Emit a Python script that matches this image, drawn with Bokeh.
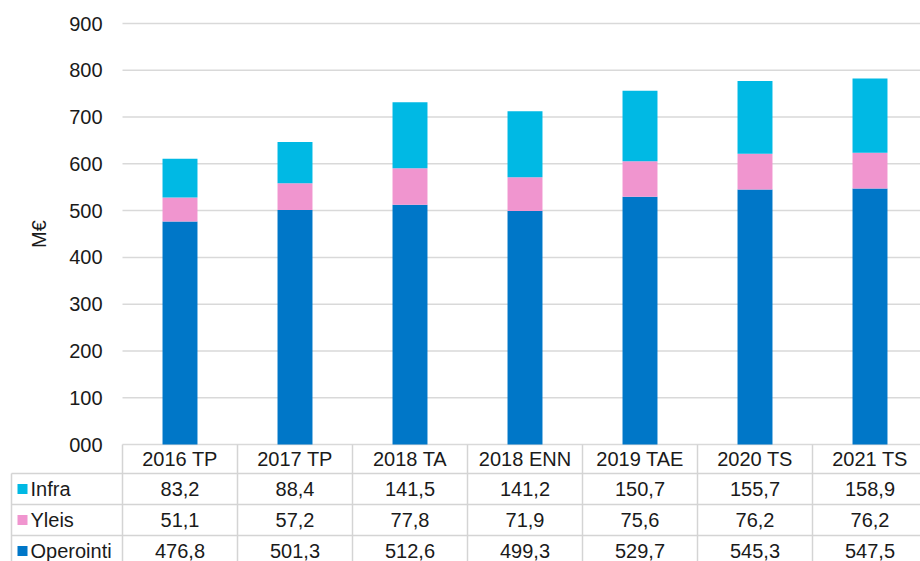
import math
from bokeh.plotting import figure
from bokeh.models import ColumnDataSource, Range1d
from bokeh.core.properties import value
from bokeh.embed import file_html
from bokeh.resources import INLINE

# ---- data ----
categories = ["2016 TP", "2017 TP", "2018 TA", "2018 ENN", "2019 TAE", "2020 TS", "2021 TS"]
operointi = [476.8, 501.3, 512.6, 499.3, 529.7, 545.3, 547.5]
yleis = [51.1, 57.2, 77.8, 71.9, 75.6, 76.2, 76.2]
infra = [83.2, 88.4, 141.5, 141.2, 150.7, 155.7, 158.9]
stack_order = ["Operointi", "Yleis", "Infra"]          # bottom -> top
table_order = ["Infra", "Yleis", "Operointi"]          # table rows top -> bottom
y_ticks = [0, 100, 200, 300, 400, 500, 600, 700, 800, 900]
y_tick_labels = ["000", "100", "200", "300", "400", "500", "600", "700", "800", "900"]
y_title = "M€"

# ---- styles ----
colors = {"Operointi": "#0077C8", "Yleis": "#F095CF", "Infra": "#00B9E4"}
FONT = "Liberation Sans"
FS = "20px"
TXT = "#1a1a1a"
BORDER = "#d4d4d4"
GRID = "#d9d9d9"

# ---- layout geometry (pixels of the 920x561 canvas) ----
W, H = 920, 561
plot_left_px = 122      # x of first category column
col_px = 115.0          # width of one category column
y0_px, y900_px = 444, 23
row_top_px, row_px = 473, 31
legend_left_px = 11

k = (y0_px - y900_px) / 900.0                      # px per value unit
x_lo = -plot_left_px / col_px
x_hi = (W - plot_left_px) / col_px
y_hi = 900 + y900_px / k
y_lo = -(H - y0_px) / k
header_bottom = -(row_top_px - y0_px) / k
t_top = -row_top_px / row_px
t_bot = (H - row_top_px) / row_px

n = len(categories)
nrows = len(table_order)
series = {"Operointi": operointi, "Yleis": yleis, "Infra": infra}
xs = [i + 0.5 for i in range(n)]
legend_left = (legend_left_px - plot_left_px) / col_px

p = figure(width=W, height=H, x_range=Range1d(x_lo, x_hi), y_range=Range1d(y_lo, y_hi),
           x_axis_location=None, y_axis_location=None,
           output_backend="svg", toolbar_location=None,
           min_border_left=0, min_border_right=0, min_border_top=0, min_border_bottom=0)
p.extra_y_ranges = {"tbl": Range1d(t_bot, t_top)}
p.outline_line_color = None
p.grid.visible = False
p.background_fill_color = "white"
p.border_fill_color = "white"

# grid lines
p.segment(x0=[0] * len(y_ticks), y0=y_ticks, x1=[x_hi + 1] * len(y_ticks), y1=y_ticks,
          line_color=GRID, line_width=1.5)

# y tick labels and title
p.text(x=[-20 / col_px] * len(y_ticks), y=y_ticks, text=y_tick_labels, text_align="right",
       text_baseline="middle", text_font=value(FONT), text_font_size=FS, text_color=TXT)
p.text(x=[(38 - plot_left_px) / col_px], y=[(y_ticks[0] + y_ticks[-1]) / 2], text=[y_title],
       angle=math.pi / 2, text_align="center", text_baseline="middle",
       text_font=value(FONT), text_font_size=FS, text_color=TXT)

# stacked bars
src = ColumnDataSource(dict(x=xs, **series))
p.vbar_stack(stack_order, x="x", width=0.304, source=src,
             color=[colors[s] for s in stack_order], line_color=None)

# header row cells
vx = list(range(n + 1))
p.segment(x0=vx, y0=[header_bottom] * len(vx), x1=vx, y1=[0] * len(vx),
          line_color=BORDER, line_width=1.5)
p.text(x=xs, y=[header_bottom / 2] * n, text=categories, text_align="center",
       text_baseline="middle", text_font=value(FONT), text_font_size=FS, text_color=TXT)

# table body
p.segment(x0=[legend_left] * (nrows + 1), y0=list(range(nrows + 1)), x1=[n] * (nrows + 1),
          y1=list(range(nrows + 1)), line_color=BORDER, line_width=1.5, y_range_name="tbl")
bx = [legend_left] + vx
p.segment(x0=bx, y0=[0] * len(bx), x1=bx, y1=[nrows] * len(bx),
          line_color=BORDER, line_width=1.5, y_range_name="tbl")

rows_y = [r + 0.5 for r in range(nrows)]
p.scatter(x=[(22 - plot_left_px) / col_px] * nrows, y=rows_y, marker="square", size=10,
          color=[colors[s] for s in table_order], line_color=None, y_range_name="tbl")
p.text(x=[(30 - plot_left_px) / col_px] * nrows, y=rows_y, text=table_order, text_align="left",
       text_baseline="middle", text_font=value(FONT), text_font_size=FS, text_color=TXT,
       y_range_name="tbl")

cx, cy, ct = [], [], []
for r, name in enumerate(table_order):
    for i, v in enumerate(series[name]):
        cx.append(i + 0.5)
        cy.append(r + 0.5)
        ct.append(f"{v:.1f}".replace(".", ","))
p.text(x=cx, y=cy, text=ct, text_align="center", text_baseline="middle",
       text_font=value(FONT), text_font_size=FS, text_color=TXT, y_range_name="tbl")

open("out.html", "w").write(file_html(p, INLINE))
